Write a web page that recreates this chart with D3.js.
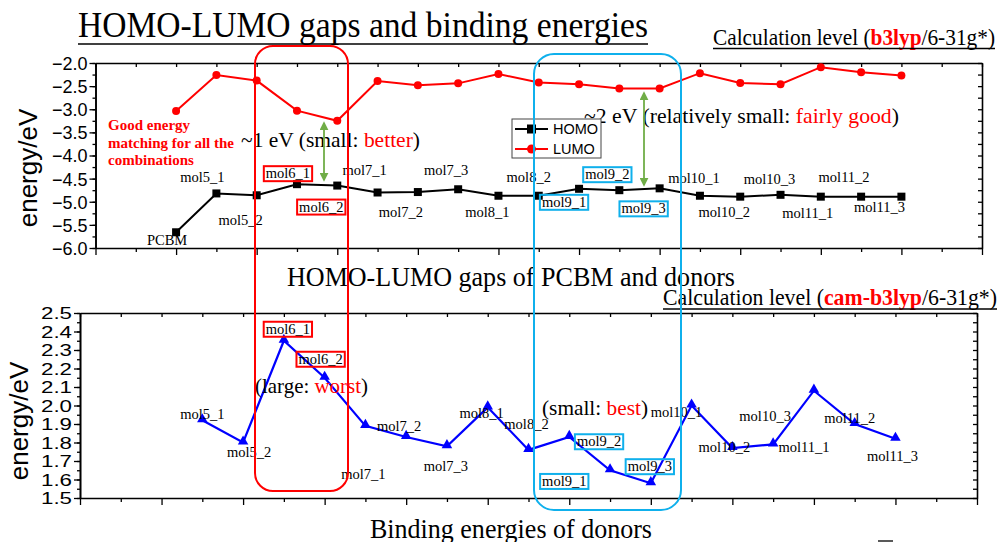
<!DOCTYPE html>
<html>
<head>
<meta charset="utf-8">
<script src="https://cdn.jsdelivr.net/npm/d3@7"></script>
<style>
  body { margin: 0; background: #fff; }
  svg { display: block; }
  .serif { font-family: "Liberation Serif", "Times New Roman", serif; }
  .sans { font-family: "Liberation Sans", Arial, sans-serif; }
</style>
</head>
<body>
<script>
/* data */
var molecules = ["PCBM", "mol5_1", "mol5_2", "mol6_1", "mol6_2", "mol7_1", "mol7_2", "mol7_3",
  "mol8_1", "mol8_2", "mol9_1", "mol9_2", "mol9_3", "mol10_1", "mol10_2", "mol10_3",
  "mol11_1", "mol11_2", "mol11_3"];
var homo = [-5.66, -4.82, -4.86, -4.62, -4.65, -4.80, -4.79, -4.73, -4.87, -4.87,
  -4.72, -4.75, -4.71, -4.87, -4.89, -4.85, -4.89, -4.89, -4.89];
var lumo = [-3.04, -2.26, -2.38, -3.03, -3.25, -2.39, -2.48, -2.44, -2.24, -2.42,
  -2.46, -2.55, -2.55, -2.22, -2.43, -2.46, -2.09, -2.20, -2.27];
// gaps: donors only, PCBM slot (index 0) left out
var donors = molecules.slice(1);
var gaps = [1.92, 1.80, 2.35, 2.15, 1.89, 1.83, 1.78, 1.99, 1.76, 1.83, 1.65, 1.58,
  2.00, 1.77, 1.79, 2.08, 1.90, 1.82];
var topTicks = [-6.0, -5.5, -5.0, -4.5, -4.0, -3.5, -3.0, -2.5, -2.0];
var bottomTicks = [1.5, 1.6, 1.7, 1.8, 1.9, 2.0, 2.1, 2.2, 2.3, 2.4, 2.5];
var redBoxed = ["mol6_1", "mol6_2"];
var blueBoxed = ["mol9_1", "mol9_2", "mol9_3"];

// label nudges (px) relative to the point
var topLabelNudge = [[-9,13],[-14,-11],[-16,30],[-9,-6],[-16,26],[-13,-18],[-17,25],[-12,-14],
  [-11,21],[-10,-14],[-15,18],[-12,-11],[-16,25],[-6,-13],[-16,20],[-11,-11],[-13,21],[-17,-15],[-22,15]];
var bottomLabelNudge = [[0,-1],[6,14],[4,-7],[-4,-14],[-2,53],[-7,-6],[-1,25],[-6,11],
  [-2,-21],[-5,49],[-11,-24],[-1,-12],[-15,11],[-8,4],[-8,-23],[-10,61],[-5,-1],[-3,22]];

var RED = "#ff0000", BLUE_BOX = "#0fb0ec", GREEN = "#70ad47";

var svg = d3.select("body").append("svg").attr("width", 1000).attr("height", 542);

/* scales */
var xTop = d3.scaleLinear().domain([-2, 20]).range([95.5, 982]);
var yTop = d3.scaleLinear().domain([-6, -2]).range([248, 63]);
var xBot = d3.scaleLinear().domain([-2, 20]).range([80, 977]);
var yBot = d3.scaleLinear().domain([1.5, 2.5]).range([498, 313]);

var inArr = function(v, arr) { return arr.indexOf(v) >= 0; };

var drawFrame = function(g, x, y, yMajor, yMinorStep, fmt, tickFont) {
  var x0 = x.range()[0], x1 = x.range()[1], y0 = y.range()[0], y1 = y.range()[1];
  var idx = d3.range(-2, 21);
  var yMinor = d3.range(y.domain()[0], y.domain()[1] + 1e-9, yMinorStep);

  // bottom axis, outward, alternating size
  g.append("g").attr("transform", "translate(0," + y0 + ")")
    .call(d3.axisBottom(x).tickValues(idx).tickFormat("").tickSizeOuter(0).tickSizeInner(6))
    .selectAll(".tick line").attr("y2", function(d) { return d % 2 === 0 ? 7 : 4; });
  // top axis, inward
  g.append("g").attr("transform", "translate(0," + y1 + ")")
    .call(d3.axisTop(x).tickValues(idx).tickFormat("").tickSizeOuter(0).tickSizeInner(-4));
  // left axis: minor then labelled majors
  g.append("g").attr("transform", "translate(" + x0 + ",0)")
    .call(d3.axisLeft(y).tickValues(yMinor).tickFormat("").tickSizeOuter(0).tickSizeInner(3));
  g.append("g").attr("transform", "translate(" + x0 + ",0)")
    .call(d3.axisLeft(y).tickValues(yMajor).tickFormat(fmt).tickSizeOuter(0).tickSizeInner(6).tickPadding(2))
    .call(function(a) {
      a.selectAll("text").attr("class", "sans").attr("font-size", tickFont.size)
        .attr("fill", "#000").attr("dy", "0.36em");
      if (tickFont.width) a.selectAll("text").attr("textLength", tickFont.width).attr("lengthAdjust", "spacingAndGlyphs");
    });
  // right axis, inward
  g.append("g").attr("transform", "translate(" + x1 + ",0)")
    .call(d3.axisRight(y).tickValues(yMinor).tickFormat("").tickSizeOuter(0).tickSizeInner(-4));
  g.selectAll(".domain").attr("stroke", "#000").attr("stroke-width", 1.6);
  g.selectAll(".tick line").attr("stroke", "#000").attr("stroke-width", 1.3);
};

var drawLabels = function(g, names, xs, ys, nudge) {
  var lg = g.append("g");
  names.forEach(function(n, i) {
    var t = lg.append("text").attr("class", "serif").attr("font-size", 14.5)
      .attr("text-anchor", "middle")
      .attr("x", xs[i] + nudge[i][0]).attr("y", ys[i] + nudge[i][1])
      .text(n);
    var col = inArr(n, redBoxed) ? RED : (inArr(n, blueBoxed) ? BLUE_BOX : null);
    if (col) {
      var b = t.node().getBBox();
      lg.insert("rect", function() { return t.node(); })
        .attr("x", b.x - 2).attr("y", b.y + 1)
        .attr("width", b.width + 4).attr("height", b.height - 1)
        .attr("fill", "none").attr("stroke", col).attr("stroke-width", 2);
    }
  });
};

// text made of plain / red / bold-red pieces
var richText = function(x, y, size, parts, len) {
  var t = svg.append("text").attr("class", "serif").attr("x", x).attr("y", y).attr("font-size", size);
  parts.forEach(function(p) {
    var s = t.append("tspan").text(p[0]);
    if (p[1]) s.attr("fill", RED);
    if (p[2]) s.attr("font-weight", "bold");
  });
  if (len) t.attr("textLength", len).attr("lengthAdjust", "spacingAndGlyphs");
  return t;
};

/* ---------- titles ---------- */
svg.append("text").attr("class", "serif").attr("x", 78).attr("y", 37)
  .attr("font-size", 36).attr("textLength", 570).attr("lengthAdjust", "spacingAndGlyphs")
  .text("HOMO-LUMO gaps and binding energies");
svg.append("line").attr("x1", 78).attr("x2", 648).attr("y1", 44).attr("y2", 44)
  .attr("stroke", "#000").attr("stroke-width", 1.6);

richText(713, 45, 22.5, [["Calculation level ("], ["b3lyp", true, true], ["/6-31g*)"]], 282);
svg.append("line").attr("x1", 713).attr("x2", 995).attr("y1", 48.5).attr("y2", 48.5)
  .attr("stroke", "#000").attr("stroke-width", 1.4);

svg.append("text").attr("class", "serif").attr("x", 287).attr("y", 286)
  .attr("font-size", 27).attr("textLength", 448).attr("lengthAdjust", "spacingAndGlyphs")
  .text("HOMO-LUMO gaps of PCBM and donors");

richText(663, 305, 23, [["Calculation level ("], ["cam-b3lyp", true, true], ["/6-31g*)"]], 334);
svg.append("line").attr("x1", 663).attr("x2", 997).attr("y1", 309).attr("y2", 309)
  .attr("stroke", "#000").attr("stroke-width", 1.4);

svg.append("text").attr("class", "serif").attr("x", 370).attr("y", 538)
  .attr("font-size", 27).attr("textLength", 282).attr("lengthAdjust", "spacingAndGlyphs")
  .text("Binding energies of donors");
svg.append("line").attr("x1", 878).attr("x2", 893).attr("y1", 541).attr("y2", 541)
  .attr("stroke", "#222").attr("stroke-width", 1.5);

/* ---------- top chart ---------- */
var gTop = svg.append("g");
drawFrame(gTop, xTop, yTop, topTicks, 0.25, d3.format(".1f"), {size: 18});
svg.append("text").attr("class", "sans").attr("font-size", 26)
  .attr("transform", "translate(37,168) rotate(-90)").attr("text-anchor", "middle")
  .text("energy/eV");

// annotations behind the data
var good = svg.append("text").attr("class", "serif").attr("font-size", 15)
  .attr("font-weight", "bold").attr("fill", RED);
["Good energy", "matching for all the", "combinations"].forEach(function(s, i) {
  good.append("tspan").attr("x", 108).attr("y", 130 + i * 17.5).text(s);
});
richText(241, 147, 21.5, [["~1 eV (small: "], ["better", true], [")"]], 179);
richText(584, 123, 21.5, [["~2 eV (relatively small: "], ["fairly good", true], [")"]], 315);

var lineTop = function(vals) {
  return d3.line().x(function(d, i) { return xTop(i); }).y(function(d) { return yTop(d); })(vals);
};
gTop.append("path").attr("d", lineTop(homo)).attr("fill", "none").attr("stroke", "#000").attr("stroke-width", 2);
gTop.append("path").attr("d", lineTop(lumo)).attr("fill", "none").attr("stroke", RED).attr("stroke-width", 2);
gTop.selectAll("rect.homo").data(homo).enter().append("rect").attr("class", "homo")
  .attr("x", function(d, i) { return xTop(i) - 4; }).attr("y", function(d) { return yTop(d) - 4; })
  .attr("width", 8).attr("height", 8).attr("fill", "#000");
gTop.selectAll("circle.lumo").data(lumo).enter().append("circle").attr("class", "lumo")
  .attr("cx", function(d, i) { return xTop(i); }).attr("cy", function(d) { return yTop(d); })
  .attr("r", 4).attr("fill", RED);

drawLabels(gTop, molecules, molecules.map(function(d, i) { return xTop(i); }),
  homo.map(function(v) { return yTop(v); }), topLabelNudge);

// legend
var leg = svg.append("g");
leg.append("rect").attr("x", 512).attr("y", 119).attr("width", 89).attr("height", 39)
  .attr("fill", "#fff").attr("stroke", "#444").attr("stroke-width", 1);
[["HOMO", "#000", "square"], ["LUMO", RED, "circle"]].forEach(function(e, i) {
  var yy = 129 + i * 20;
  leg.append("line").attr("x1", 515).attr("x2", 548).attr("y1", yy).attr("y2", yy)
    .attr("stroke", e[1]).attr("stroke-width", 2);
  if (e[2] === "square") {
    leg.append("rect").attr("x", 527).attr("y", yy - 4.5).attr("width", 9).attr("height", 9).attr("fill", e[1]);
  } else {
    leg.append("circle").attr("cx", 531.5).attr("cy", yy).attr("r", 4.5).attr("fill", e[1]);
  }
  leg.append("text").attr("class", "sans").attr("font-size", 14.5).attr("x", 553).attr("y", yy + 5)
    .text(e[0]);
});

/* ---------- bottom chart ---------- */
var gBot = svg.append("g");
drawFrame(gBot, xBot, yBot, bottomTicks, 0.05, d3.format(".1f"), {size: 16, width: 31});
svg.append("text").attr("class", "sans").attr("font-size", 26)
  .attr("transform", "translate(28,421) rotate(-90)").attr("text-anchor", "middle")
  .text("energy/eV");

richText(255, 393, 21.5, [["(large: "], ["worst", true], [")"]], 113);
richText(542, 415, 21.5, [["(small: "], ["best", true], [")"]], 106);

var gapLine = d3.line().x(function(d, i) { return xBot(i + 1); }).y(function(d) { return yBot(d); });
gBot.append("path").attr("d", gapLine(gaps)).attr("fill", "none").attr("stroke", "#0000ff").attr("stroke-width", 2.2);
var tri = d3.symbol().type(d3.symbolTriangle).size(48);
gBot.selectAll("path.gap").data(gaps).enter().append("path").attr("class", "gap")
  .attr("d", tri).attr("fill", "#0000ff")
  .attr("transform", function(d, i) { return "translate(" + xBot(i + 1) + "," + (yBot(d) - 1) + ")"; });

drawLabels(gBot, donors, donors.map(function(d, i) { return xBot(i + 1); }),
  gaps.map(function(v) { return yBot(v); }), bottomLabelNudge);

/* ---------- highlight boxes and arrows on top ---------- */
svg.append("rect").attr("x", 255).attr("y", 46).attr("width", 93).attr("height", 445)
  .attr("rx", 18).attr("ry", 18).attr("fill", "none").attr("stroke", RED).attr("stroke-width", 2);
svg.append("rect").attr("x", 534).attr("y", 54).attr("width", 147).attr("height", 456)
  .attr("rx", 20).attr("ry", 20).attr("fill", "none").attr("stroke", BLUE_BOX).attr("stroke-width", 2);

var defs = svg.append("defs");
defs.append("marker").attr("id", "ah").attr("viewBox", "0 0 10 10").attr("refX", 8).attr("refY", 5)
  .attr("markerWidth", 5).attr("markerHeight", 5).attr("orient", "auto-start-reverse")
  .append("path").attr("d", "M0,0 L10,5 L0,10 z").attr("fill", GREEN);
[[324, 123, 180], [644, 93, 185]].forEach(function(a) {
  svg.append("line").attr("x1", a[0]).attr("x2", a[0]).attr("y1", a[1]).attr("y2", a[2])
    .attr("stroke", GREEN).attr("stroke-width", 1.8)
    .attr("marker-start", "url(#ah)").attr("marker-end", "url(#ah)");
});
</script>
</body>
</html>
